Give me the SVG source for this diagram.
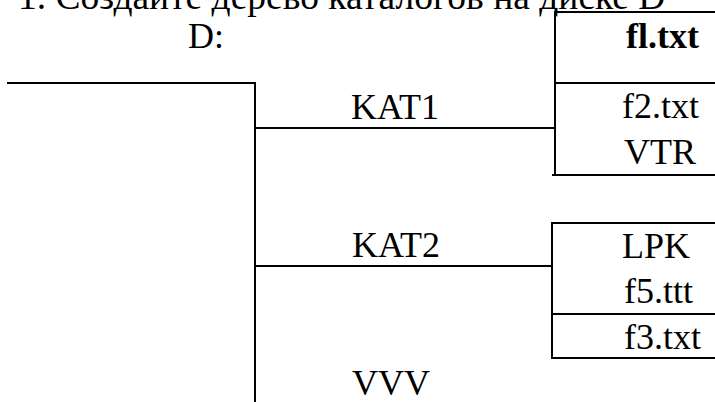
<svg xmlns="http://www.w3.org/2000/svg" width="715" height="402" viewBox="0 0 715 402">
<style>
text{font-family:"Liberation Serif","Times New Roman",serif;font-size:36px;fill:#000}
.b{font-weight:bold}
.t{font-size:37.5px}
line{stroke:#000;stroke-width:2;stroke-linecap:square}
</style>
<rect width="715" height="402" fill="#fff"/>
<text id="title" class="t" x="18" y="9">1. Создайте дерево каталогов на диске D</text>
<g id="connectors">
<line x1="8" y1="83" x2="255" y2="83"/>
<line x1="255" y1="83" x2="255" y2="402"/>
<line x1="255" y1="128" x2="555" y2="128"/>
<line x1="255" y1="266" x2="552" y2="266"/>
</g>
<g id="root">
<text x="188" y="48">D:</text>
</g>
<g id="kat1">
<text x="351" y="119">KAT1</text>
</g>
<g id="kat2">
<text x="352" y="257">KAT2</text>
</g>
<g id="vvv">
<text x="352" y="395">VVV</text>
</g>
<g id="box1">
<line x1="555" y1="12" x2="715" y2="12"/>
<line x1="555" y1="12" x2="555" y2="175"/>
<line x1="555" y1="83" x2="715" y2="83"/>
<line x1="553" y1="175" x2="715" y2="175"/>
<text class="b" x="626" y="48">fl.txt</text>
<text x="622" y="118">f2.txt</text>
<text x="624" y="164">VTR</text>
</g>
<g id="box2">
<line x1="552" y1="223" x2="715" y2="223"/>
<line x1="552" y1="223" x2="552" y2="358"/>
<line x1="552" y1="314" x2="715" y2="314"/>
<line x1="552" y1="358" x2="715" y2="358"/>
<text x="622" y="258">LPK</text>
<text x="624" y="303">f5.ttt</text>
<text x="624" y="349">f3.txt</text>
</g>
</svg>
